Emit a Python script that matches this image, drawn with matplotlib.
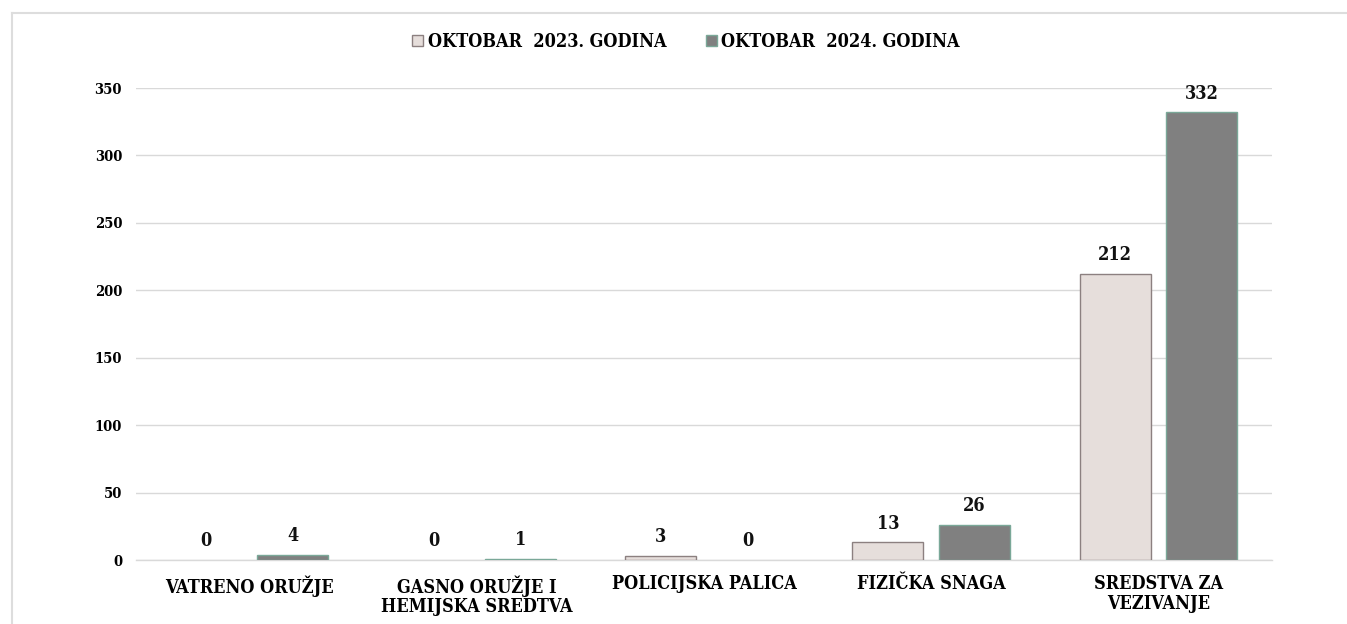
import matplotlib
matplotlib.use("Agg")
import matplotlib.pyplot as plt
import numpy as np
from matplotlib.lines import Line2D
from matplotlib.patches import Patch

categories = ["VATRENO ORUŽJE", "GASNO ORUŽJE I\nHEMIJSKA SREDTVA", "POLICIJSKA PALICA",
              "FIZIČKA SNAGA", "SREDSTVA ZA\nVEZIVANJE"]
series_names = ["OKTOBAR  2023. GODINA", "OKTOBAR  2024. GODINA"]
values_2023 = [0, 0, 3, 13, 212]
values_2024 = [4, 1, 0, 26, 332]
yticks = [0, 50, 100, 150, 200, 250, 300, 350]

FONT = ["DejaVu Serif", "Liberation Serif"]
plt.rcParams['font.family'] = FONT
plt.rcParams['font.stretch'] = 'condensed'
plt.rcParams['font.weight'] = 'bold'

W, H = 1347, 624
fig = plt.figure(figsize=(W / 100, H / 100), dpi=100)
left, right, bottom, top = 136, 1272, 560, 88
ax = fig.add_axes([left / W, (H - bottom) / H, (right - left) / W, (bottom - top) / H])

c1, e1 = "#E6DEDB", "#8C8080"
c2, e2 = "#808080", "#7AA898"

x = np.arange(len(categories))
w = 0.3125
off = 0.191
b1 = ax.bar(x - off, values_2023, w, color=c1, edgecolor=e1,
            linewidth=[1.0 if v > 0 else 0 for v in values_2023], zorder=3)
b2 = ax.bar(x + off, values_2024, w, color=c2, edgecolor=e2,
            linewidth=[1.0 if v > 0 else 0 for v in values_2024], zorder=3)

for bars, vals in ((b1, values_2023), (b2, values_2024)):
    for r, v in zip(bars, vals):
        ax.annotate(str(v), (r.get_x() + r.get_width() / 2, v), xytext=(0, 7),
                    textcoords="offset points", ha="center", va="bottom",
                    fontsize=13, fontweight="bold", fontstretch="condensed", color="#111111")

ax.set_xlim(-0.5, len(categories) - 0.5)
ax.set_ylim(0, 350)
ax.set_yticks(yticks)
ax.set_yticklabels([str(t) for t in yticks], fontsize=10.5, fontweight="bold", fontstretch="condensed")
ax.set_xticks(x)
ax.set_xticklabels(categories, fontsize=13, fontweight="bold", fontstretch="condensed", linespacing=1.12)
ax.tick_params(axis="y", length=0, pad=10)
ax.tick_params(axis="x", length=0, pad=11)
ax.grid(axis="y", color="#D9D9D9", linewidth=1.0, zorder=0)
for s in ["top", "right", "left"]:
    ax.spines[s].set_visible(False)
ax.spines["bottom"].set_color("#D9D9D9")
ax.spines["bottom"].set_linewidth(1.0)

handles = [Patch(facecolor=c1, edgecolor=e1, linewidth=1.0),
           Patch(facecolor=c2, edgecolor=e2, linewidth=1.0)]
leg = fig.legend(handles=handles, labels=series_names, loc="center",
                 bbox_to_anchor=(686 / W, 1 - 42 / H),
                 ncol=2, frameon=False, handlelength=0.6, handleheight=0.6, handletextpad=0.25,
                 columnspacing=2.2,
                 prop={"family": FONT, "weight": "bold", "size": 13, "stretch": "condensed"})

fig.add_artist(Line2D([11.5 / W, 1], [1 - 12.5 / H, 1 - 12.5 / H], transform=fig.transFigure,
                      color="#DDDDDD", linewidth=1.5))
fig.add_artist(Line2D([11.5 / W, 11.5 / W], [0, 1 - 12.5 / H], transform=fig.transFigure,
                      color="#DDDDDD", linewidth=1.5))

fig.savefig("out.png", dpi=100)
